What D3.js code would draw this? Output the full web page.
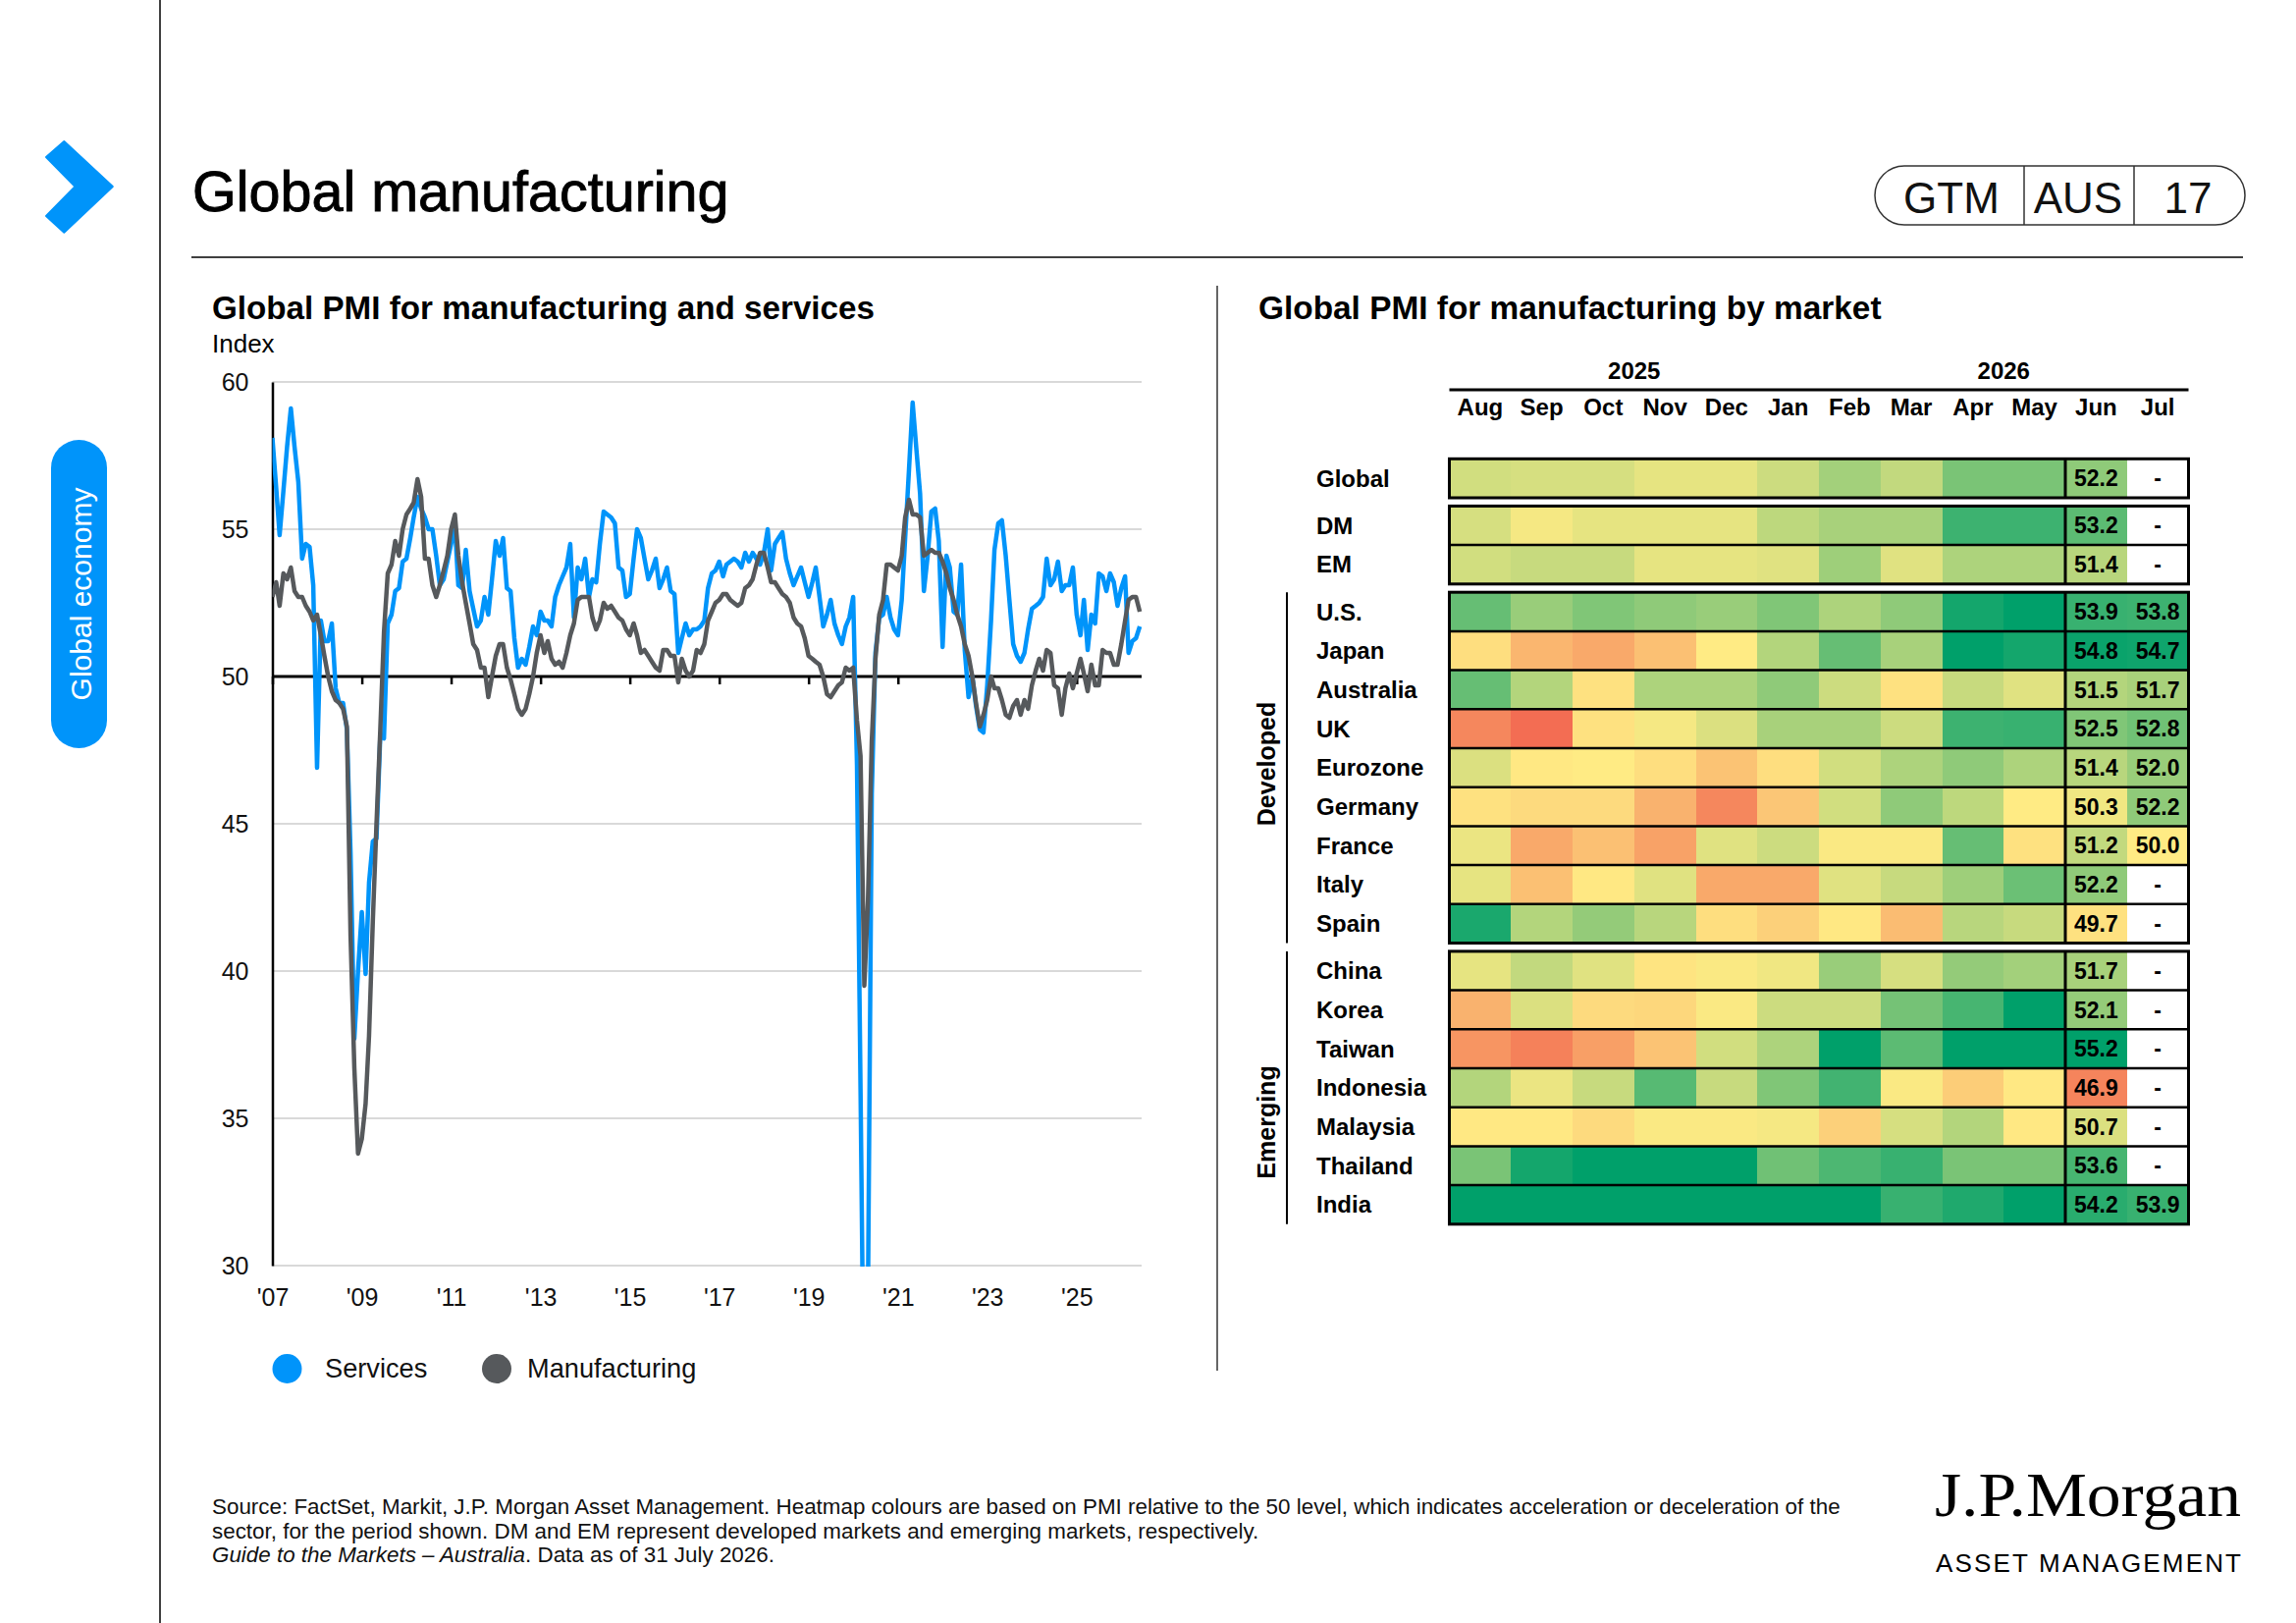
<!DOCTYPE html>
<html><head><meta charset="utf-8">
<script src="https://cdn.jsdelivr.net/npm/d3@7"></script>
<style>
html,body{margin:0;padding:0;background:#fff;}
svg{display:block;font-family:"Liberation Sans",Arial,Helvetica,sans-serif;}
</style></head><body>
<svg id="c" width="2339" height="1653"></svg>
<script>
// ---------------- DATA ----------------
const seriesStart = [2007, 0]; // Jan 2007, monthly
const servicesPMI = [
 58.1,56.4,54.8,56.3,57.8,59.1,57.8,56.6,54.0,54.5,54.4,53.1,
 46.9,51.9,51.2,51.2,51.8,49.6,49.1,49.1,48.2,44.0,37.7,40.0,
 42.0,39.9,43.0,44.4,44.5,48.0,47.9,51.8,52.1,52.9,53.0,53.9,
 54.0,54.7,55.4,56.1,55.7,55.4,55.0,55.0,54.1,53.1,53.3,53.9,
 54.5,55.1,53.1,53.0,54.3,52.9,52.3,51.7,51.9,52.7,52.1,53.3,
 54.6,54.1,54.7,53.0,52.9,51.3,50.3,50.6,50.4,51.0,51.7,51.4,
 52.2,51.9,51.9,51.7,52.7,53.1,53.4,53.7,54.5,52.0,53.7,53.3,
 54.0,52.7,53.3,53.2,54.5,55.6,55.5,55.4,55.2,53.7,53.6,52.7,
 52.8,54.0,55.0,54.7,54.0,53.3,53.6,54.0,53.0,53.3,53.7,52.9,
 52.8,50.8,51.3,51.8,51.4,51.6,51.6,51.7,51.9,53.0,53.5,53.6,
 53.9,53.4,53.8,53.9,54.0,53.9,53.7,54.2,53.9,54.2,54.0,53.8,
 54.2,55.0,53.6,54.5,54.7,54.9,54.0,53.5,53.1,53.4,53.7,53.2,
 52.7,53.2,53.7,52.7,51.7,52.1,52.6,51.8,51.4,51.1,51.7,52.0,
 52.7,47.0,36.0,23.7,29.0,46.0,50.8,52.0,52.1,52.7,52.0,51.6,
 51.4,52.6,54.7,57.0,59.3,57.7,56.2,52.9,54.1,55.6,55.7,54.6,
 51.0,54.1,53.7,52.2,52.1,53.8,50.9,49.3,50.0,49.0,48.2,48.1,
 49.7,51.9,54.3,55.2,55.3,54.1,52.6,51.1,50.7,50.5,50.8,51.6,
 52.3,52.4,52.5,52.7,54.0,53.1,53.3,53.9,52.9,53.1,53.1,53.7,
 52.1,51.4,52.6,50.9,52.1,51.8,53.5,53.4,52.9,53.5,53.2,52.4,
 53.0,53.4,50.8,51.2,51.3,51.7
];
const manufacturingPMI = [
 52.7,53.2,52.4,53.5,53.3,53.7,52.9,52.7,52.7,52.4,52.2,51.9,
 52.1,51.4,50.7,50.0,49.5,49.2,49.1,48.9,48.3,41.2,36.7,33.8,
 34.3,35.5,37.8,41.7,45.0,48.2,51.5,53.5,53.8,54.6,54.1,55.0,
 55.5,55.7,55.9,56.7,56.1,54.0,54.0,53.1,52.7,53.1,53.6,54.1,
 55.0,55.5,54.1,53.2,52.5,51.8,51.1,50.9,50.3,50.3,49.3,50.0,
 50.7,51.1,51.1,50.3,49.9,49.4,48.9,48.7,48.9,49.4,50.0,50.8,
 51.4,50.8,51.2,50.6,50.4,50.5,50.3,50.8,51.4,51.8,52.6,52.7,
 52.7,52.7,52.0,51.6,51.9,52.5,52.3,52.4,52.2,52.0,51.9,51.6,
 51.4,51.8,51.4,50.8,50.9,50.7,50.5,50.3,50.2,50.9,50.9,50.7,
 50.7,49.8,50.6,50.2,50.0,50.2,50.9,50.8,51.1,51.9,52.2,52.5,
 52.6,52.8,52.8,52.6,52.5,52.4,52.5,53.0,53.1,53.3,53.8,54.2,
 54.2,53.7,53.2,53.2,53.0,52.8,52.7,52.5,52.0,51.8,51.7,51.3,
 50.7,50.6,50.5,50.4,50.0,49.4,49.3,49.5,49.7,49.8,50.3,50.2,
 50.3,48.5,47.3,39.5,42.4,47.8,50.6,52.1,52.6,53.8,53.8,53.7,
 53.6,54.1,55.4,56.0,55.5,55.5,55.4,54.1,54.2,54.3,54.2,54.2,
 53.9,53.5,53.0,52.6,52.1,51.7,51.1,50.7,50.0,49.1,48.3,48.7,
 49.2,50.0,49.6,49.6,49.2,48.7,48.6,49.0,49.2,48.7,49.2,48.9,
 49.7,50.2,50.6,50.2,50.9,50.8,49.7,49.6,48.7,49.6,50.1,49.6,
 50.1,50.6,50.1,49.5,50.4,49.7,49.7,50.9,50.8,50.8,50.4,50.4,
 51.1,51.9,52.6,52.7,52.7,52.2
];
const yTickValues = [30, 35, 40, 45, 50, 55, 60];
const xTickYears = [2007, 2009, 2011, 2013, 2015, 2017, 2019, 2021, 2023, 2025];
const legendNames = ["Services", "Manufacturing"];

const heatYearLabels = ["2025", "2026"];
const heatMonths = ["Aug","Sep","Oct","Nov","Dec","Jan","Feb","Mar","Apr","May","Jun","Jul"];
const labelledMonths = ["Jun","Jul"];
const marketNames = ["Global","DM","EM","U.S.","Japan","Australia","UK","Eurozone","Germany","France","Italy","Spain",
  "China","Korea","Taiwan","Indonesia","Malaysia","Thailand","India"];
const marketGroup = [0,1,1,2,2,2,2,2,2,2,2,2,3,3,3,3,3,3,3];
const groupNames = ["Developed","Emerging"];
const marketValues = [
 [50.9,50.8,50.8,50.5,50.5,51.0,51.8,51.2,52.6,52.6,52.2,null],
 [50.8,50.2,50.5,50.5,50.5,51.3,51.7,51.7,53.8,53.8,53.2,null],
 [50.9,51.1,51.1,50.5,50.5,50.6,51.9,50.6,51.6,51.6,51.4,null],
 [53.0,52.0,52.5,52.2,52.0,52.5,51.6,52.2,54.6,55.2,53.9,53.8],
 [49.6,48.4,48.0,48.7,50.0,51.5,53.0,51.7,55.1,54.6,54.8,54.7],
 [53.0,51.5,49.7,51.6,51.6,52.2,51.0,49.7,51.1,50.6,51.5,51.7],
 [47.0,46.2,49.7,50.2,50.7,51.7,51.7,51.0,53.8,53.9,52.5,52.8],
 [50.7,49.9,50.0,49.6,48.8,49.6,50.9,51.6,52.2,51.6,51.4,52.0],
 [49.7,49.5,49.5,48.3,47.0,48.9,50.9,52.2,51.3,50.0,50.3,52.2],
 [50.4,48.0,48.7,47.8,50.6,51.0,50.1,50.1,53.0,49.7,51.2,50.0],
 [50.5,48.7,49.9,50.6,48.0,48.0,50.6,51.1,51.9,52.9,52.2,null],
 [54.5,51.5,52.1,51.4,49.6,49.2,49.9,48.6,51.4,51.1,49.7,null],
 [50.5,51.2,50.6,49.8,50.1,50.3,52.0,50.8,52.1,51.8,51.7,null],
 [48.3,50.7,49.5,49.4,50.1,51.0,51.0,52.7,53.6,55.0,52.1,null],
 [47.4,46.8,47.7,48.8,50.9,51.6,55.6,53.2,55.7,55.9,55.2,null],
 [51.5,50.4,51.1,53.3,51.1,52.5,53.7,50.1,49.1,49.9,46.9,null],
 [49.9,49.9,49.5,50.1,50.1,50.2,49.2,50.8,51.5,49.9,50.7,null],
 [52.6,54.6,55.4,55.8,55.3,52.8,53.5,53.9,52.6,52.6,53.6,null],
 [59.3,57.7,57.5,56.6,55.6,55.4,56.9,53.9,54.4,55.1,54.2,53.9]
];

// ---------------- DRAW ----------------
const BLUE = "#0094FA", GREY = "#56595C";
const svg = d3.select("#c");

// left rail
svg.append("line").attr("x1",163).attr("x2",163).attr("y1",0).attr("y2",1653).attr("stroke","#000").attr("stroke-width",1.5);
svg.append("path")
  .attr("d","M65.3,144 L114.8,190 L65.3,236.7 L47,220 L76.5,190 L47,160 Z")
  .attr("fill",BLUE).attr("stroke",BLUE).attr("stroke-width",2).attr("stroke-linejoin","round");
svg.append("rect").attr("x",52).attr("y",448).attr("width",57).attr("height",314).attr("rx",28.5).attr("fill",BLUE);
svg.append("text").attr("transform","translate(93,605) rotate(-90)").attr("text-anchor","middle")
  .attr("font-size",30).attr("fill","#fff").text("Global economy");

// title + header pill
svg.append("text").attr("x",196).attr("y",215).attr("font-size",57.5).attr("fill","#000")
  .attr("stroke","#000").attr("stroke-width",0.9).text("Global manufacturing");
svg.append("line").attr("x1",195).attr("x2",2285).attr("y1",262).attr("y2",262).attr("stroke","#000").attr("stroke-width",1.5);
svg.append("rect").attr("x",1910).attr("y",169).attr("width",377).attr("height",60).attr("rx",30)
  .attr("fill","none").attr("stroke","#333").attr("stroke-width",1.5);
[2062,2174].forEach(x=>svg.append("line").attr("x1",x).attr("x2",x).attr("y1",169).attr("y2",229).attr("stroke","#333").attr("stroke-width",1.5));
[["GTM",1988],["AUS",2117],["17",2229]].forEach(([t,x])=>svg.append("text").attr("x",x).attr("y",217)
  .attr("text-anchor","middle").attr("font-size",44).attr("fill","#111").text(t));

// divider
svg.append("line").attr("x1",1240).attr("x2",1240).attr("y1",291).attr("y2",1396).attr("stroke","#333").attr("stroke-width",1.5);

// ---- Line chart ----
svg.append("text").attr("x",216).attr("y",325).attr("font-size",33.2).attr("font-weight","bold").text("Global PMI for manufacturing and services");
svg.append("text").attr("x",216).attr("y",359).attr("font-size",26).text("Index");

const x = d3.scaleTime().domain([new Date(2007,0,1), new Date(2026,5,16)]).range([277.5, 1163]);
const y = d3.scaleLinear().domain([30,60]).range([1289,389]);
const dateOf = i => new Date(seriesStart[0], seriesStart[1] + i, 1);

const gGrid = svg.append("g");
yTickValues.forEach(v=>{
  if (v !== 50) gGrid.append("line").attr("x1",x.range()[0]).attr("x2",x.range()[1]).attr("y1",y(v)).attr("y2",y(v))
    .attr("stroke","#d9d9d9").attr("stroke-width",2);
});
const yAxis = svg.append("g").attr("transform",`translate(${x.range()[0]},0)`)
  .call(d3.axisLeft(y).tickValues(yTickValues).tickSize(0).tickPadding(24));
yAxis.select(".domain").attr("stroke","#000").attr("stroke-width",2.5);
yAxis.selectAll("text").attr("font-size",25).attr("fill","#111").attr("font-family","Liberation Sans, Arial, sans-serif");

const xAxis = svg.append("g").attr("transform",`translate(0,${y(50)})`)
  .call(d3.axisBottom(x).tickValues(xTickYears.map(yr=>new Date(yr,0,1))).tickSize(8).tickFormat(d3.timeFormat("'%y")));
xAxis.select(".domain").attr("stroke","#000").attr("stroke-width",3).attr("d",`M${x.range()[0]},0H${x.range()[1]}`);
xAxis.selectAll(".tick line").attr("stroke","#000").attr("stroke-width",2.5);
xAxis.selectAll("text").attr("font-size",25).attr("fill","#111").attr("font-family","Liberation Sans, Arial, sans-serif")
  .attr("y", y(30) - y(50) + 23).attr("dy","0.71em");

svg.append("clipPath").attr("id","plotclip").append("rect")
  .attr("x",x.range()[0]).attr("y",380).attr("width",x.range()[1]-x.range()[0]+4).attr("height",y(30)-380+1);
const line = d3.line().x((d,i)=>x(dateOf(i))).y(d=>y(d)).curve(d3.curveLinear);
const gLines = svg.append("g").attr("clip-path","url(#plotclip)");
[[servicesPMI,BLUE],[manufacturingPMI,GREY]].forEach(([s,c])=>{
  gLines.append("path").datum(s).attr("d",line).attr("fill","none").attr("stroke",c)
    .attr("stroke-width",4.5).attr("stroke-linejoin","round").attr("stroke-linecap","butt");
});

// legend
[[legendNames[0],BLUE,292.5,331],[legendNames[1],GREY,506,537]].forEach(([t,c,cx,tx])=>{
  svg.append("circle").attr("cx",cx).attr("cy",1394).attr("r",15).attr("fill",c);
  svg.append("text").attr("x",tx).attr("y",1403).attr("font-size",27.2).attr("fill","#111").text(t);
});

// ---- Heatmap ----
svg.append("text").attr("x",1282).attr("y",325).attr("font-size",33.4).attr("font-weight","bold").text("Global PMI for manufacturing by market");

const xb = d3.scaleBand().domain(heatMonths).range([1476.5, 2229.5]).paddingInner(0).paddingOuter(0);
const rowH = 39.7, groupGap = 8.4;
const rowPos = d3.scaleLinear().domain([0,1]).range([467.3, 467.3+rowH]);
const rowY = i => rowPos(i) + marketGroup[i]*groupGap;
const color = d3.scaleLinear().domain([46,50,55]).range(["#F26650","#FFEB84","#00A06A"]).clamp(true);

// year labels & header line
heatYearLabels.forEach((t,k)=>{
  const cx = xb(heatMonths[k*6]) + xb.bandwidth()*3;
  svg.append("text").attr("x",cx).attr("y",386).attr("text-anchor","middle").attr("font-size",24).attr("font-weight","bold").text(t);
});
svg.append("line").attr("x1",xb.range()[0]).attr("x2",xb.range()[1]).attr("y1",397).attr("y2",397).attr("stroke","#000").attr("stroke-width",3);
heatMonths.forEach(m=>{
  svg.append("text").attr("x",xb(m)+xb.bandwidth()/2).attr("y",423).attr("text-anchor","middle")
    .attr("font-size",24).attr("font-weight","bold").text(m);
});

const gCells = svg.append("g").attr("shape-rendering","crispEdges");
marketNames.forEach((name,i)=>{
  const yy = rowY(i);
  marketValues[i].forEach((v,j)=>{
    const m = heatMonths[j];
    gCells.append("rect").attr("x",xb(m)).attr("y",yy).attr("width",xb.bandwidth()+0.5).attr("height",rowH+0.5)
      .attr("fill", v==null ? "#fff" : color(v));
  });
  svg.append("text").attr("x",1341).attr("y",yy+rowH/2+8.5).attr("font-size",24).attr("font-weight","bold").text(name);
});

// borders per group
const groups = d3.groups(marketNames.map((n,i)=>i), i=>marketGroup[i]);
groups.forEach(([g, idx])=>{
  const top = rowY(idx[0]), bot = rowY(idx[idx.length-1]) + rowH;
  idx.slice(1).forEach(i=>{
    svg.append("line").attr("x1",xb.range()[0]).attr("x2",xb.range()[1]).attr("y1",rowY(i)).attr("y2",rowY(i))
      .attr("stroke","#000").attr("stroke-width",2.5);
  });
  svg.append("line").attr("x1",xb("Jun")).attr("x2",xb("Jun")).attr("y1",top).attr("y2",bot).attr("stroke","#000").attr("stroke-width",3);
  svg.append("rect").attr("x",xb.range()[0]).attr("y",top).attr("width",xb.range()[1]-xb.range()[0]).attr("height",bot-top)
    .attr("fill","none").attr("stroke","#000").attr("stroke-width",3);
  if (g >= 2) {
    svg.append("line").attr("x1",1311).attr("x2",1311).attr("y1",top).attr("y2",bot).attr("stroke","#000").attr("stroke-width",2);
  }
});

// value labels
marketNames.forEach((name,i)=>{
  labelledMonths.forEach(m=>{
    const v = marketValues[i][heatMonths.indexOf(m)];
    svg.append("text").attr("x",xb(m)+xb.bandwidth()/2).attr("y",rowY(i)+rowH/2+8.2).attr("text-anchor","middle")
      .attr("font-size",23).attr("font-weight","bold").text(v==null ? "-" : v.toFixed(1));
  });
});

// group labels
[[groupNames[0],778],[groupNames[1],1143]].forEach(([t,cy])=>{
  svg.append("text").attr("transform",`translate(1299,${cy}) rotate(-90)`).attr("text-anchor","middle")
    .attr("font-size",25).attr("font-weight","bold").text(t);
});

// footer
const foot = svg.append("g").attr("font-size",22.4).attr("fill","#111");
foot.append("text").attr("x",216).attr("y",1542).text("Source: FactSet, Markit, J.P. Morgan Asset Management. Heatmap colours are based on PMI relative to the 50 level, which indicates acceleration or deceleration of the");
foot.append("text").attr("x",216).attr("y",1567).text("sector, for the period shown. DM and EM represent developed markets and emerging markets, respectively.");
const f3 = foot.append("text").attr("x",216).attr("y",1591);
f3.append("tspan").attr("font-style","italic").text("Guide to the Markets – Australia");
f3.append("tspan").text(". Data as of 31 July 2026.");

// logo
svg.append("text").attr("x",1971).attr("y",1544).attr("font-family","Liberation Serif, DejaVu Serif, serif")
  .attr("font-size",64).attr("textLength",312).attr("lengthAdjust","spacingAndGlyphs").text("J.P.Morgan");
svg.append("text").attr("x",1972).attr("y",1601).attr("font-size",26).attr("textLength",311)
  .attr("lengthAdjust","spacing").text("ASSET MANAGEMENT");
</script>
</body></html>
